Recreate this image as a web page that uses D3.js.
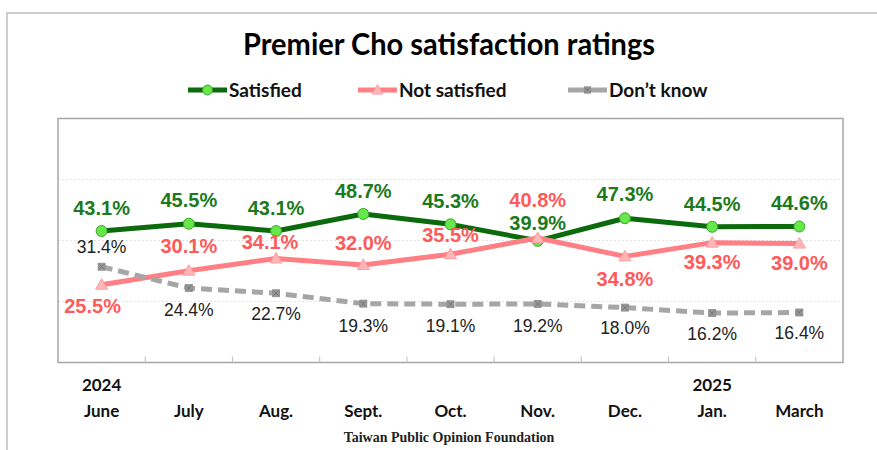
<!DOCTYPE html>
<html>
<head>
<meta charset="utf-8">
<script src="https://cdn.jsdelivr.net/npm/d3@7"></script>
<style>
  body { margin: 0; background: #fff; }
  svg { display: block; }
</style>
</head>
<body>
<div id="graph"></div>
<script>
// data
var months = ["June", "July", "Aug.", "Sept.", "Oct.", "Nov.", "Dec.", "Jan.", "March"];
var years = ["2024", "", "", "", "", "", "", "2025", ""];
var satisfied = [43.1, 45.5, 43.1, 48.7, 45.3, 39.9, 47.3, 44.5, 44.6];
var notSatisfied = [25.5, 30.1, 34.1, 32.0, 35.5, 40.8, 34.8, 39.3, 39.0];
var dontKnow = [31.4, 24.4, 22.7, 19.3, 19.1, 19.2, 18.0, 16.2, 16.4];
var yTicks = [0, 20, 40, 60, 80];
var seriesNames = ["Satisfied", "Not satisfied", "Don\u2019t know"];

var W = 877, H = 450;
var plot = {left: 58, right: 843, top: 118.5, bottom: 362.5};

var svg = d3.select("#graph").append("svg")
    .attr("width", W)
    .attr("height", H);

// outer chart frame (cut off at right / bottom)
svg.append("path")
    .attr("d", "M7," + H + "V13H" + W)
    .attr("fill", "none")
    .attr("stroke", "#bfbfbf")
    .attr("stroke-width", 1.5);

var x = d3.scaleBand().domain(months).range([plot.left, plot.right]);
var y = d3.scaleLinear().domain([0, 80]).range([plot.bottom, plot.top]);
function cx(d, i) { return x(months[i]) + x.bandwidth() / 2; }

// gridlines
svg.append("g").selectAll("line")
    .data(yTicks.slice(1, -1))
  .enter().append("line")
    .attr("x1", plot.left).attr("x2", plot.right)
    .attr("y1", function(d) { return y(d); })
    .attr("y2", function(d) { return y(d); })
    .attr("stroke", "#e3e3e3")
    .attr("stroke-dasharray", "2,2");

// plot border
svg.append("rect")
    .attr("x", plot.left).attr("y", plot.top)
    .attr("width", plot.right - plot.left)
    .attr("height", plot.bottom - plot.top)
    .attr("fill", "none")
    .attr("stroke", "#a6a6a6")
    .attr("stroke-width", 1.5);

// tick marks between categories, pointing up
svg.append("g").selectAll("line")
    .data(months.slice(1))
  .enter().append("line")
    .attr("x1", function(d) { return x(d); })
    .attr("x2", function(d) { return x(d); })
    .attr("y1", plot.bottom)
    .attr("y2", plot.bottom - 6)
    .attr("stroke", "#bfbfbf")
    .attr("stroke-width", 1);

// x labels
var xl = svg.append("g")
    .style("font-family", "Lato, sans-serif")
    .style("font-weight", "bold")
    .style("font-size", "17px")
    .attr("text-anchor", "middle")
    .attr("fill", "#111");
xl.selectAll("text.m")
    .data(months)
  .enter().append("text")
    .attr("class", "m")
    .attr("x", cx)
    .attr("y", 417)
    .text(function(d) { return d; });
xl.selectAll("text.yr")
    .data(years)
  .enter().append("text")
    .attr("class", "yr")
    .attr("x", cx)
    .attr("y", 391)
    .text(function(d) { return d; });

// series settings; label offsets are relative to each point
var series = [
  {values: satisfied, line: "#0b6a0b", label: "#1b7a1b", weight: "bold", size: 20,
   marker: "circle", dash: null,
   dy: [-23, -24, -23, -23, -23, -18, -24, -23, -23]},
  {values: notSatisfied, line: "#ff7f84", label: "#ff5a5a", weight: "bold", size: 20,
   marker: "triangle", dash: null,
   dy: [21, -25, -16, -22, -19, -38, 23, 19, 19], dx: [-9, 0, -6, 0, 0, 0, 0, 0, 0]},
  {values: dontKnow, line: "#a6a6a6", label: "#222", weight: "normal", size: 17.5,
   marker: "square", dash: "11,6",
   dy: [-20, 22, 21, 22, 22, 22, 20, 21, 21]}
];

var valueline = d3.line()
    .x(function(d, i) { return cx(d, i); })
    .y(function(d) { return y(d); });

function drawMarker(g, type, px, py, s) {
  if (type === "circle") {
    g.append("circle").attr("cx", px).attr("cy", py).attr("r", 5.5 * s)
        .attr("fill", "#66e84a").attr("stroke", "#3aa52a").attr("stroke-width", 1);
  } else if (type === "triangle") {
    var r = 6 * s;
    g.append("path")
        .attr("d", "M" + px + "," + (py - r) + "L" + (px + r) + "," + (py + r * 0.75) +
                   "L" + (px - r) + "," + (py + r * 0.75) + "Z")
        .attr("fill", "#ffb6b8").attr("stroke", "#ff9da1").attr("stroke-width", 1);
  } else {
    var h = 3.5 * s;
    g.append("rect").attr("x", px - h).attr("y", py - h)
        .attr("width", 2 * h).attr("height", 2 * h)
        .attr("fill", "#9a9a9a").attr("stroke", "#8a8a8a").attr("stroke-width", 0.8);
    g.append("path")
        .attr("d", "M" + (px - h + 1) + "," + (py - h + 1) + "L" + (px + h - 1) + "," + (py + h - 1) +
                   "M" + (px + h - 1) + "," + (py - h + 1) + "L" + (px - h + 1) + "," + (py + h - 1))
        .attr("stroke", "#666").attr("stroke-width", 0.8);
  }
}

series.forEach(function(s) {
  var g = svg.append("g");
  g.append("path")
      .datum(s.values)
      .attr("d", valueline)
      .attr("fill", "none")
      .attr("stroke", s.line)
      .attr("stroke-width", 5)
      .attr("stroke-linejoin", "round")
      .attr("stroke-dasharray", s.dash);
  s.values.forEach(function(v, i) {
    drawMarker(g, s.marker, cx(v, i), y(v), 1);
  });
});

// data labels on top
series.forEach(function(s) {
  svg.append("g").selectAll("text")
      .data(s.values)
    .enter().append("text")
      .attr("x", function(d, i) { return cx(d, i) + (s.dx ? s.dx[i] : 0); })
      .attr("y", function(d, i) { return y(d) + s.dy[i]; })
      .attr("text-anchor", "middle")
      .attr("dominant-baseline", "central")
      .style("font-family", "'Liberation Sans', Arial, sans-serif")
      .style("font-weight", s.weight)
      .style("font-size", s.size + "px")
      .attr("fill", s.label)
      .text(function(d) { return d.toFixed(1) + "%"; });
});

// title
svg.append("text")
    .attr("x", 449).attr("y", 55)
    .attr("text-anchor", "middle")
    .attr("textLength", 412)
    .attr("lengthAdjust", "spacingAndGlyphs")
    .style("font-family", "Lato, sans-serif")
    .style("font-weight", "bold")
    .style("font-size", "30px")
    .attr("fill", "#000")
    .text("Premier Cho satisfaction ratings");

// legend
var legendX = [188, 358, 568];
var lg = svg.append("g");
series.forEach(function(s, i) {
  var x0 = legendX[i];
  lg.append("line")
      .attr("x1", x0).attr("x2", x0 + 39)
      .attr("y1", 90).attr("y2", 90)
      .attr("stroke", s.line)
      .attr("stroke-width", 5);
  drawMarker(lg, s.marker, x0 + 19.5, 90, 0.9);
  lg.append("text")
      .attr("x", x0 + 41).attr("y", 96.5)
      .style("font-family", "Lato, sans-serif")
      .style("font-weight", "bold")
      .style("font-size", "19px")
      .attr("fill", "#111")
      .text(seriesNames[i]);
});

// source
svg.append("text")
    .attr("x", 449).attr("y", 442)
    .attr("text-anchor", "middle")
    .style("font-family", "'Liberation Serif', 'Times New Roman', serif")
    .style("font-weight", "bold")
    .style("font-size", "14px")
    .attr("fill", "#222")
    .text("Taiwan Public Opinion Foundation");
</script>
</body>
</html>
